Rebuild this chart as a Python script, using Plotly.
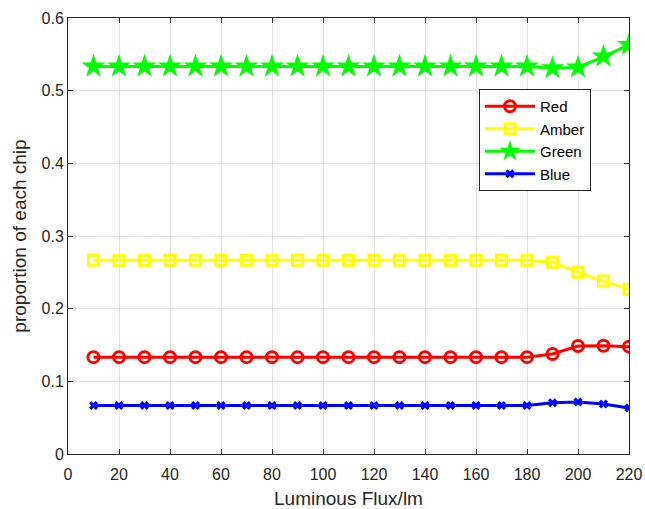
import plotly.graph_objects as go

flux = [10, 20, 30, 40, 50, 60, 70, 80, 90, 100, 110, 120, 130, 140, 150, 160, 170, 180, 190, 200, 210, 220]
red = [0.1333]*18 + [0.1376, 0.1486, 0.149, 0.1477]
amber = [0.2667]*18 + [0.264, 0.250, 0.238, 0.2266]
green = [0.5333]*18 + [0.531, 0.532, 0.547, 0.563]
blue = [0.0667]*18 + [0.0706, 0.0716, 0.0688, 0.0633]

x_ticks = list(range(0, 221, 20))
y_ticks = [0, 0.1, 0.2, 0.3, 0.4, 0.5, 0.6]
y_labels = ["0", "0.1", "0.2", "0.3", "0.4", "0.5", "0.6"]

FONT = "Liberation Sans, Arial, Helvetica"

fig = go.Figure()
fig.add_trace(go.Scatter(x=flux, y=red, name="Red", mode="lines+markers",
                         line=dict(color="#ff0000", width=3),
                         marker=dict(symbol="circle-open", size=11, line=dict(width=3, color="#ff0000"))))
fig.add_trace(go.Scatter(x=flux, y=amber, name="Amber", mode="lines+markers",
                         line=dict(color="#ffff00", width=3),
                         marker=dict(symbol="square-open", size=10, line=dict(width=3, color="#ffff00"))))
fig.add_trace(go.Scatter(x=flux, y=green, name="Green", mode="lines+markers",
                         line=dict(color="#00ff00", width=3),
                         marker=dict(symbol="star", size=18, color="#00ff00", line=dict(width=0))))
fig.add_trace(go.Scatter(x=flux, y=blue, name="Blue", mode="lines+markers",
                         line=dict(color="#0000ff", width=3),
                         marker=dict(symbol="x", size=8, color="#0000ff", line=dict(width=0))))

axis_common = dict(showline=True, linecolor="#262626", linewidth=1, mirror="ticks",
                   ticks="inside", ticklen=5, tickcolor="#262626",
                   showgrid=True, gridcolor="#e3e3e3", gridwidth=1, zeroline=False,
                   automargin=False,
                   tickfont=dict(family=FONT, size=16, color="#262626"))

fig.update_xaxes(range=[0, 220], tickvals=x_ticks, ticktext=[str(v) for v in x_ticks],
                 ticklabelstandoff=6,
                 title=dict(text="Luminous Flux/lm", font=dict(family=FONT, size=19, color="#262626"), standoff=13),
                 **axis_common)
fig.update_yaxes(range=[0, 0.6], tickvals=y_ticks, ticktext=y_labels,
                 title=dict(text="proportion of each chip", font=dict(family=FONT, size=19, color="#262626"), standoff=9),
                 **axis_common)

fig.update_layout(
    width=645, height=509,
    margin=dict(l=68, r=16, t=18, b=55),
    plot_bgcolor="white", paper_bgcolor="white",
    font=dict(family=FONT, size=16, color="#262626"),
    legend=dict(x=0.7326, y=0.837, xanchor="left", yanchor="top",
                bgcolor="white", bordercolor="#262626", borderwidth=1,
                font=dict(family=FONT, size=15, color="#000000"), itemwidth=50),
    showlegend=True,
)

fig.write_html("out.html", config={"displayModeBar": False},
               post_script="document.body.style.margin='0';")
